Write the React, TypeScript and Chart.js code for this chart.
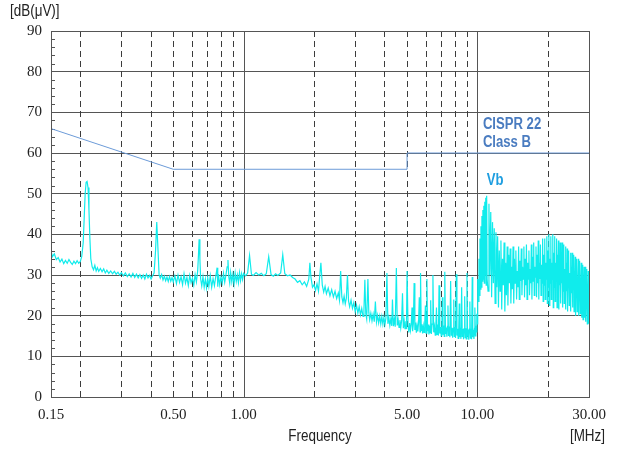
import { useEffect, useRef } from "react";
import { Chart, registerables } from "chart.js";

Chart.register(...registerables);

// ---- axes / ticks ----
const xLabelValues = [0.15, 0.5, 1, 5, 10, 30];
const xDashedGrid = [0.2, 0.3, 0.4, 0.5, 0.6, 0.7, 0.8, 0.9, 2, 3, 4, 5, 6, 7, 8, 9, 20];
const xSolidGrid = [1, 10];
const yTickValues = [0, 10, 20, 30, 40, 50, 60, 70, 80, 90];
const yMinorTicks = [2, 4, 6, 8, 12, 14, 16, 18, 22, 24, 26, 28, 32, 34, 36, 38, 42, 44, 46, 48, 52, 54, 56, 58, 62, 64, 66, 68, 72, 74, 76, 78, 82, 84, 86, 88];

// ---- CISPR 22 Class B limit ----
const limitFreq = [0.15, 0.5, 5, 5, 30];
const limitLevel = [66, 56, 56, 60, 60];

// ---- Vb trace, [MHz, dBuV] ----
const vbBand1: [number, number][] = [
  [0.150, 36.0], [0.152, 34.5], [0.155, 35.2], [0.158, 33.8], [0.161, 34.3], [0.164, 33.2], [0.167, 33.9],
  [0.170, 32.8], [0.173, 33.6], [0.176, 32.9], [0.179, 33.8], [0.182, 33.1], [0.185, 32.6], [0.188, 33.4],
  [0.191, 32.8], [0.194, 33.5], [0.197, 32.9], [0.200, 33.3], [0.203, 34.5], [0.206, 38.0], [0.208, 44.0],
  [0.210, 50.0], [0.212, 52.8], [0.214, 53.0], [0.216, 51.5], [0.218, 46.0], [0.220, 39.0], [0.222, 34.0],
  [0.225, 32.0], [0.228, 31.3], [0.231, 32.4], [0.234, 31.0], [0.237, 31.8], [0.240, 30.9], [0.244, 31.6],
  [0.248, 30.8], [0.252, 31.5], [0.256, 30.5], [0.260, 31.2], [0.265, 30.4], [0.270, 31.0], [0.275, 30.3],
  [0.280, 30.9], [0.285, 30.2], [0.290, 30.7], [0.295, 30.0], [0.300, 30.6], [0.306, 29.8], [0.312, 30.5],
  [0.318, 29.6], [0.324, 30.3], [0.330, 29.5], [0.336, 30.4], [0.342, 29.4], [0.348, 30.2], [0.354, 29.3],
  [0.360, 30.1], [0.366, 29.2], [0.372, 30.0], [0.378, 29.0], [0.384, 30.2], [0.390, 29.3], [0.396, 29.9],
  [0.402, 29.0], [0.408, 29.8], [0.414, 30.5], [0.420, 36.0], [0.425, 43.0], [0.430, 36.5], [0.435, 30.0],
  [0.440, 29.2], [0.446, 30.1], [0.452, 28.8], [0.458, 29.7], [0.464, 28.6], [0.470, 29.5], [0.476, 28.4],
  [0.482, 29.6], [0.488, 28.5], [0.494, 29.4], [0.500, 28.3],
];

const vbBand2: [number, number][] = [
  [0.508, 29.8], [0.516, 27.9], [0.524, 30.0], [0.532, 28.2], [0.540, 29.6], [0.548, 27.6], [0.556, 30.3],
  [0.564, 28.0], [0.572, 29.4], [0.580, 27.4], [0.588, 29.9], [0.596, 28.1], [0.604, 29.2], [0.612, 27.5],
  [0.620, 30.1], [0.628, 28.3], [0.636, 31.0], [0.641, 35.0], [0.645, 38.8], [0.650, 34.0], [0.655, 29.0],
  [0.662, 27.3], [0.670, 29.6], [0.678, 27.0], [0.686, 29.0], [0.694, 26.8], [0.702, 29.3], [0.710, 27.2],
  [0.720, 29.8], [0.730, 27.0], [0.740, 29.1], [0.750, 27.4], [0.760, 29.7], [0.770, 31.8], [0.775, 27.1],
  [0.780, 30.2], [0.790, 27.6], [0.800, 29.5], [0.810, 28.0], [0.820, 30.4], [0.830, 28.2], [0.840, 30.0],
  [0.850, 32.0], [0.857, 33.7], [0.864, 29.5], [0.872, 28.0], [0.880, 30.6], [0.890, 28.3], [0.900, 30.2],
  [0.910, 27.8], [0.920, 30.5], [0.930, 28.4], [0.940, 30.0], [0.950, 28.1], [0.960, 30.6], [0.970, 28.6],
  [0.980, 30.3], [0.990, 28.9], [1.000, 30.4],
];

const vbBand3: [number, number][] = [
  [1.02, 29.8], [1.04, 30.5], [1.06, 34.8], [1.08, 30.2], [1.10, 29.9], [1.13, 30.6], [1.16, 30.0],
  [1.19, 30.4], [1.22, 29.8], [1.25, 30.3], [1.28, 34.5], [1.31, 30.1], [1.34, 29.7], [1.37, 30.3],
  [1.40, 29.9], [1.44, 30.5], [1.47, 35.0], [1.50, 30.3], [1.54, 29.8], [1.58, 30.0], [1.62, 29.4],
  [1.66, 29.0], [1.70, 28.2], [1.74, 28.6], [1.78, 27.6], [1.82, 28.3], [1.86, 27.2], [1.90, 29.0],
  [1.92, 33.0], [1.94, 29.5], [1.97, 27.0], [2.00, 27.6], [2.03, 26.2], [2.06, 27.8], [2.09, 26.0],
  [2.11, 29.0], [2.14, 33.0], [2.17, 27.5], [2.20, 25.8], [2.23, 27.2], [2.26, 25.4], [2.30, 26.8],
  [2.34, 24.9], [2.38, 26.4], [2.42, 24.6], [2.46, 26.0], [2.50, 24.2], [2.54, 25.6], [2.57, 23.8],
  [2.60, 31.0], [2.63, 24.6], [2.66, 23.2], [2.69, 24.8], [2.72, 22.9], [2.75, 24.3], [2.78, 30.0],
  [2.81, 23.6], [2.84, 22.2], [2.88, 23.8], [2.92, 21.8], [2.96, 23.2], [3.00, 21.0], [3.04, 22.6],
  [3.08, 20.6], [3.12, 22.2], [3.16, 20.2], [3.20, 21.8], [3.24, 19.8], [3.27, 21.4], [3.30, 28.8],
  [3.33, 20.5], [3.36, 19.2], [3.40, 29.0], [3.43, 20.8], [3.46, 19.0], [3.50, 20.6], [3.54, 18.7],
  [3.58, 20.4], [3.62, 18.5], [3.66, 23.5], [3.70, 18.4], [3.74, 20.1], [3.78, 18.2], [3.82, 19.9],
  [3.86, 18.0], [3.90, 19.8], [3.94, 17.9], [3.98, 19.6], [4.02, 17.8], [4.06, 19.4], [4.10, 30.5],
  [4.14, 18.0], [4.18, 19.5], [4.22, 17.6], [4.26, 19.2], [4.30, 17.5], [4.33, 24.0], [4.37, 17.4],
  [4.41, 19.1], [4.45, 17.3], [4.50, 31.7], [4.54, 17.6], [4.58, 19.0], [4.62, 17.1], [4.66, 18.9],
  [4.70, 17.0], [4.74, 18.8], [4.78, 25.5], [4.82, 16.9], [4.86, 18.7], [4.90, 16.8], [4.94, 18.6],
  [4.97, 16.7], [5.00, 31.0],
];

const vbBand4: [number, number][] = [
  [5.05, 17.4], [5.09, 15.9], [5.13, 18.2], [5.17, 16.4], [5.21, 17.9], [5.25, 22.0], [5.28, 16.2],
  [5.32, 18.0], [5.36, 28.0], [5.40, 16.5], [5.44, 18.3], [5.48, 15.8], [5.52, 17.6], [5.56, 16.1],
  [5.60, 18.4], [5.64, 24.5], [5.68, 16.0], [5.71, 30.5], [5.75, 16.4], [5.79, 17.9], [5.83, 15.6],
  [5.87, 17.4], [5.91, 15.9], [5.95, 18.1], [5.99, 22.5], [6.03, 15.7], [6.08, 29.0], [6.12, 16.2],
  [6.16, 17.8], [6.20, 15.4], [6.24, 17.5], [6.28, 15.8], [6.31, 23.8], [6.35, 15.5], [6.40, 17.9],
  [6.45, 30.0], [6.50, 15.9], [6.55, 17.3], [6.60, 15.2], [6.64, 17.6], [6.68, 22.0], [6.72, 15.4],
  [6.77, 17.8], [6.81, 15.1], [6.85, 27.5], [6.90, 15.6], [6.95, 17.2], [7.00, 15.0], [7.04, 17.5],
  [7.08, 24.5], [7.12, 15.3], [7.17, 17.6], [7.21, 14.9], [7.25, 30.8], [7.30, 15.5], [7.35, 17.1],
  [7.40, 14.8], [7.44, 17.4], [7.48, 22.5], [7.52, 15.0], [7.57, 17.3], [7.62, 14.7], [7.68, 28.5],
  [7.73, 15.2], [7.78, 17.0], [7.83, 14.6], [7.88, 16.9], [7.92, 24.0], [7.96, 14.9], [8.01, 17.2],
  [8.06, 14.5], [8.12, 30.2], [8.17, 15.1], [8.22, 16.8], [8.27, 14.4], [8.32, 16.9], [8.36, 23.0],
  [8.40, 14.7], [8.45, 17.0], [8.50, 14.3], [8.56, 27.0], [8.61, 14.9], [8.66, 16.7], [8.72, 14.2],
  [8.77, 16.8], [8.82, 24.8], [8.86, 14.6], [8.91, 16.9], [8.96, 14.3], [9.02, 30.5], [9.07, 14.8],
  [9.12, 16.6], [9.18, 14.1], [9.23, 16.7], [9.28, 23.5], [9.33, 14.5], [9.38, 16.8], [9.44, 14.2],
  [9.50, 29.5], [9.55, 14.7], [9.60, 16.5], [9.66, 14.3], [9.71, 16.9], [9.75, 22.0], [9.80, 15.0],
  [9.85, 17.5], [9.90, 16.0], [9.94, 20.5], [9.98, 18.0],
];

const vbBand5: [number, number][] = [
  [10.00, 22.0], [10.05, 29.0], [10.10, 23.5], [10.15, 34.0], [10.20, 25.0], [10.25, 39.0], [10.30, 26.5],
  [10.35, 42.0], [10.40, 27.0], [10.45, 44.5], [10.50, 28.5], [10.55, 46.0], [10.60, 29.0], [10.65, 47.0],
  [10.70, 28.0], [10.75, 48.0], [10.80, 30.0], [10.85, 49.0], [10.90, 27.5], [10.95, 49.5], [11.00, 29.0],
  [11.1, 26.0], [11.2, 47.5], [11.3, 30.0], [11.4, 45.5], [11.5, 24.5], [11.6, 43.0], [11.7, 28.0], [11.8, 41.5], [11.9, 23.0], [12.0, 40.5],
  [12.1, 27.0], [12.2, 39.5], [12.3, 22.0], [12.4, 36.0], [12.5, 26.0], [12.6, 38.5], [12.7, 21.5], [12.8, 34.0], [12.9, 27.5], [13.0, 38.0],
  [13.1, 21.0], [13.2, 33.0], [13.3, 25.0], [13.4, 37.0], [13.5, 22.5], [13.6, 35.0], [13.7, 28.0], [13.8, 36.5], [13.9, 23.0], [14.0, 32.0],
  [14.1, 26.5], [14.2, 37.0], [14.3, 23.0], [14.4, 34.0], [14.5, 28.0], [14.6, 36.0], [14.7, 24.0], [14.8, 31.0], [14.9, 27.0], [15.0, 37.0],
  [15.1, 24.0], [15.2, 33.5], [15.3, 28.5], [15.4, 36.5], [15.5, 25.0], [15.6, 32.0], [15.7, 29.0], [15.8, 37.0], [15.9, 24.5], [16.0, 34.0],
  [16.1, 27.5], [16.2, 37.5], [16.3, 24.0], [16.4, 33.0], [16.5, 29.0], [16.6, 36.0], [16.7, 25.0], [16.8, 31.5], [16.9, 28.0], [17.0, 37.5],
  [17.1, 24.0], [17.2, 34.5], [17.3, 28.5], [17.4, 38.0], [17.5, 25.0], [17.6, 32.0], [17.7, 29.5], [17.8, 37.0], [17.9, 24.5], [18.0, 35.0],
  [18.1, 28.0], [18.2, 38.5], [18.3, 24.0], [18.4, 33.0], [18.5, 29.0], [18.6, 37.5], [18.7, 25.0], [18.8, 32.5], [18.9, 28.0], [19.0, 39.0],
  [19.1, 23.5], [19.2, 35.0], [19.3, 27.5], [19.4, 39.0], [19.5, 24.0], [19.6, 33.0], [19.7, 29.0], [19.8, 39.5], [19.9, 23.0], [20.0, 36.0],
  [20.1, 27.0], [20.2, 40.0], [20.3, 22.5], [20.4, 34.0], [20.5, 28.0], [20.6, 39.5], [20.7, 24.0], [20.8, 33.0], [20.9, 29.0], [21.0, 40.0],
  [21.1, 22.0], [21.2, 35.5], [21.3, 27.0], [21.4, 39.5], [21.5, 23.5], [21.6, 33.0], [21.7, 28.5], [21.8, 39.0], [21.9, 22.0], [22.0, 35.0],
  [22.1, 26.5], [22.2, 38.5], [22.3, 21.5], [22.4, 33.0], [22.5, 27.5], [22.6, 38.0], [22.7, 23.0], [22.8, 32.0], [22.9, 28.0], [23.0, 38.0],
  [23.1, 22.0], [23.2, 34.0], [23.3, 26.0], [23.4, 37.5], [23.5, 23.0], [23.6, 31.5], [23.7, 27.5], [23.8, 37.0], [23.9, 21.5], [24.0, 33.0],
  [24.1, 26.0], [24.2, 36.5], [24.3, 21.0], [24.4, 31.0], [24.5, 27.0], [24.6, 36.0], [24.7, 22.5], [24.8, 30.5], [24.9, 26.5], [25.0, 35.5],
  [25.1, 21.0], [25.2, 32.0], [25.3, 25.5], [25.4, 35.5], [25.5, 22.0], [25.6, 30.0], [25.7, 26.5], [25.8, 35.0], [25.9, 21.0], [26.0, 31.0],
  [26.1, 25.0], [26.2, 34.5], [26.3, 20.0], [26.4, 30.0], [26.5, 25.5], [26.6, 34.0], [26.7, 21.0], [26.8, 29.0], [26.9, 25.0], [27.0, 34.0],
  [27.1, 20.0], [27.2, 30.0], [27.3, 24.0], [27.4, 33.5], [27.5, 20.5], [27.6, 28.5], [27.7, 24.5], [27.8, 33.0], [27.9, 19.5], [28.0, 29.0],
  [28.1, 23.5], [28.2, 32.5], [28.3, 19.0], [28.4, 28.0], [28.5, 24.0], [28.6, 32.0], [28.7, 19.5], [28.8, 27.5], [28.9, 23.0], [29.0, 32.0],
  [29.1, 18.5], [29.2, 27.0], [29.3, 22.5], [29.4, 31.5], [29.5, 18.0], [29.6, 26.0], [29.7, 22.0], [29.8, 31.0], [29.9, 18.0], [30.0, 25.0],
];

const vbTrace = [...vbBand1, ...vbBand2, ...vbBand3, ...vbBand4, ...vbBand5];

const SANS = "'Liberation Sans', Arial, sans-serif";
const SERIF = "'Liberation Serif', 'DejaVu Serif', serif";

function narrowText(ctx: CanvasRenderingContext2D, text: string, x: number, y: number, squeeze: number) {
  ctx.save();
  ctx.translate(x, y);
  ctx.scale(squeeze, 1);
  ctx.fillText(text, 0, 0);
  ctx.restore();
}

const overlayPlugin = {
  id: "emcOverlay",
  beforeDatasetsDraw(chart: any) {
    const { ctx, chartArea: a, scales } = chart;
    const xs = scales.x;
    const ys = scales.y;
    ctx.save();
    ctx.lineWidth = 1;
    ctx.strokeStyle = "#3c3c3c";
    ctx.setLineDash([6, 4]);
    for (const f of xDashedGrid) {
      const px = Math.round(xs.getPixelForValue(f)) + 0.5;
      ctx.beginPath();
      ctx.moveTo(px, a.top);
      ctx.lineTo(px, a.bottom);
      ctx.stroke();
    }
    ctx.setLineDash([]);
    ctx.strokeStyle = "#555";
    for (const f of xSolidGrid) {
      const px = Math.round(xs.getPixelForValue(f)) + 0.5;
      ctx.beginPath();
      ctx.moveTo(px, a.top);
      ctx.lineTo(px, a.bottom);
      ctx.stroke();
    }
    ctx.beginPath();
    for (const v of yMinorTicks) {
      const py = Math.round(ys.getPixelForValue(v)) + 0.5;
      ctx.moveTo(a.left, py);
      ctx.lineTo(a.left + 4, py);
    }
    ctx.stroke();
    ctx.restore();
  },
  afterDraw(chart: any) {
    const { ctx, chartArea: a, scales } = chart;
    const xs = scales.x;
    const ys = scales.y;
    ctx.save();
    ctx.strokeStyle = "#555";
    ctx.lineWidth = 1;
    ctx.strokeRect(Math.round(a.left) + 0.5, Math.round(a.top) + 0.5, Math.round(a.right - a.left), Math.round(a.bottom - a.top));

    ctx.fillStyle = "#222";
    ctx.textBaseline = "middle";
    ctx.font = `16px ${SANS}`;
    ctx.textAlign = "left";
    narrowText(ctx, "[dB(μV)]", 10, 12, 0.84);
    ctx.textAlign = "center";
    narrowText(ctx, "Frequency", (a.left + a.right) / 2, 437, 0.84);
    ctx.textAlign = "right";
    narrowText(ctx, "[MHz]", a.right + 16, 437, 0.84);

    ctx.textAlign = "left";
    ctx.font = `bold 16px ${SANS}`;
    ctx.fillStyle = "#4a7cc0";
    narrowText(ctx, "CISPR 22", xs.getPixelForValue(10.55), ys.getPixelForValue(67.1), 0.82);
    narrowText(ctx, "Class B", xs.getPixelForValue(10.55), ys.getPixelForValue(62.6), 0.82);
    ctx.fillStyle = "#1e9ee0";
    narrowText(ctx, "Vb", xs.getPixelForValue(10.97), ys.getPixelForValue(53.1), 0.82);
    ctx.restore();
  },
};

export default function App() {
  const canvasRef = useRef<HTMLCanvasElement | null>(null);

  useEffect(() => {
    document.body.style.margin = "0";
    const canvas = canvasRef.current;
    if (!canvas) return;
    const chart = new Chart(canvas, {
      type: "line",
      data: {
        datasets: [
          {
            label: "CISPR 22 Class B",
            data: limitFreq.map((f, i) => ({ x: f, y: limitLevel[i] })),
            borderColor: "#6c9bd8",
            borderWidth: 1,
            pointRadius: 0,
            tension: 0,
          },
          {
            label: "Vb",
            data: vbTrace.map(([f, v]) => ({ x: f, y: v })),
            borderColor: "#10ecec",
            borderWidth: 1.2,
            pointRadius: 0,
            tension: 0,
          },
        ],
      },
      options: {
        animation: false,
        responsive: false,
        devicePixelRatio: 1,
        layout: { padding: { top: 31, right: 34, left: 0, bottom: 0 } },
        plugins: { legend: { display: false }, tooltip: { enabled: false } },
        scales: {
          x: {
            type: "logarithmic",
            min: 0.15,
            max: 30,
            afterBuildTicks: (s: any) => {
              s.ticks = xLabelValues.map((v) => ({ value: v }));
            },
            afterFit: (s: any) => {
              s.height = 54;
            },
            grid: { display: false, drawTicks: false },
            border: { display: false },
            ticks: {
              autoSkip: false,
              maxRotation: 0,
              padding: 9,
              color: "#222",
              font: { family: SERIF, size: 15 },
              callback: (v: any) => Number(v).toFixed(2),
            },
          },
          y: {
            type: "linear",
            min: 0,
            max: 90,
            afterBuildTicks: (s: any) => {
              s.ticks = yTickValues.map((v) => ({ value: v }));
            },
            afterFit: (s: any) => {
              s.width = 51;
            },
            grid: { color: "#555", lineWidth: 1, drawTicks: false },
            border: { display: false },
            ticks: {
              padding: 9,
              color: "#222",
              font: { family: SERIF, size: 15 },
            },
          },
        },
      },
      plugins: [overlayPlugin],
    });
    return () => chart.destroy();
  }, []);

  return (
    <div style={{ width: 623, height: 451, background: "#fff" }}>
      <canvas ref={canvasRef} width={623} height={451} />
    </div>
  );
}
